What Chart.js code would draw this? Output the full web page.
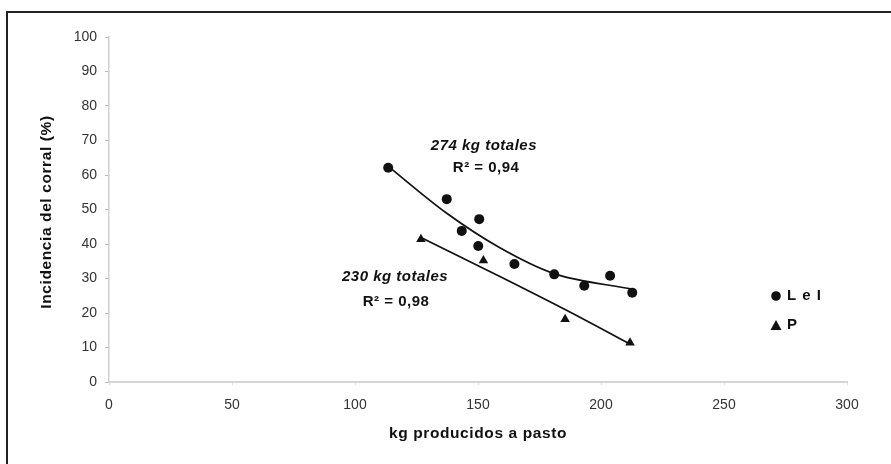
<!DOCTYPE html>
<html>
<head>
<meta charset="utf-8">
<script src="https://cdn.jsdelivr.net/npm/chart.js@4.4.1/dist/chart.umd.min.js"></script>
<style>
  html,body{margin:0;padding:0;background:#fff;}
  body{width:891px;height:464px;position:relative;overflow:hidden;}
  #frame{position:absolute;left:6px;top:11px;width:900px;height:470px;border:2px solid #222;box-sizing:border-box;}
  #c{position:absolute;left:0;top:0;}
</style>
</head>
<body>
<div id="frame"></div>
<canvas id="c" width="891" height="464"></canvas>
<script>
const FONT = '"Liberation Sans", Arial, sans-serif';

// L e I (circles)
const xLeI = [113.5, 137.3, 143.4, 150.5, 150.1, 164.8, 181.0, 193.2, 203.7, 212.7];
const yLeI = [62.1, 53.0, 43.8, 47.2, 39.4, 34.2, 31.2, 27.9, 30.8, 25.9];
// P (triangles)
const xP = [126.8, 152.2, 185.4, 211.8];
const yP = [41.4, 35.2, 18.2, 11.4];

// trend curves
const trendXLeI = [113.5, 137.3, 158.9, 180.6, 212.7];
const trendYLeI = [62.5, 48.9, 38.9, 31.5, 26.9];
const trendXP = [126.8, 158.9, 186.0, 211.8];
const trendYP = [41.9, 30.6, 20.8, 11.0];

const seriesNames = ['L e I', 'P'];
const xTicks = [0, 50, 100, 150, 200, 250, 300];
const yTicks = [0, 10, 20, 30, 40, 50, 60, 70, 80, 90, 100];

const pts = (xs, ys) => xs.map((x, i) => ({x, y: ys[i]}));

// text placed in data space
const notes = [
  {text: '274 kg totales', x: 152.4, y: 68.4, italic: true},
  {text: 'R² = 0,94', x: 153.3, y: 62.0},
  {text: '230 kg totales', x: 116.3, y: 30.4, italic: true},
  {text: 'R² = 0,98', x: 116.7, y: 23.2}
];

const textPlugin = {
  id: 'texts',
  afterDraw(chart){
    const {ctx, scales:{x, y}} = chart;
    ctx.save();
    ctx.fillStyle = '#111';
    ctx.textAlign = 'center';
    ctx.textBaseline = 'middle';
    ctx.letterSpacing = '0.5px';
    notes.forEach(n => {
      ctx.font = (n.italic ? 'italic ' : '') + 'bold 15px ' + FONT;
      ctx.fillText(n.text, x.getPixelForValue(n.x), y.getPixelForValue(n.y));
    });

    // axis titles
    ctx.font = 'bold 15.5px ' + FONT;
    ctx.letterSpacing = '0.6px';
    ctx.fillText('kg producidos a pasto', (x.left + x.right) / 2, 434);
    ctx.save();
    ctx.translate(47, 212);
    ctx.rotate(-Math.PI / 2);
    ctx.fillText('Incidencia del corral (%)', 0, 0);
    ctx.restore();

    // legend
    ctx.font = 'bold 15px ' + FONT;
    ctx.letterSpacing = '1px';
    ctx.textAlign = 'left';
    ctx.beginPath(); ctx.arc(776, 296, 4.8, 0, Math.PI * 2); ctx.fill();
    ctx.fillText(seriesNames[0], 787, 296);
    ctx.beginPath();
    ctx.moveTo(776, 320); ctx.lineTo(781.5, 330); ctx.lineTo(770.5, 330); ctx.closePath(); ctx.fill();
    ctx.fillText(seriesNames[1], 787, 325);
    ctx.restore();
  }
};

new Chart(document.getElementById('c'), {
  type: 'scatter',
  data: {
    datasets: [
      { label: seriesNames[0], data: pts(xLeI, yLeI), pointStyle: 'circle', pointRadius: 5,
        backgroundColor: '#111', borderColor: '#111', borderWidth: 0 },
      { label: seriesNames[1], data: pts(xP, yP), pointStyle: 'triangle', pointRadius: 5.5,
        backgroundColor: '#111', borderColor: '#111', borderWidth: 0 },
      { label: 'trend1', data: pts(trendXLeI, trendYLeI), showLine: true, pointRadius: 0,
        borderColor: '#111', borderWidth: 1.7, cubicInterpolationMode: 'monotone' },
      { label: 'trend2', data: pts(trendXP, trendYP), showLine: true, pointRadius: 0,
        borderColor: '#111', borderWidth: 1.7, cubicInterpolationMode: 'monotone' }
    ]
  },
  options: {
    responsive: false,
    animation: false,
    layout: { padding: { top: 37, right: 44, left: 0, bottom: 0 } },
    plugins: { legend: { display: false }, tooltip: { enabled: false } },
    scales: {
      x: {
        type: 'linear', min: 0, max: 300,
        afterFit: s => { s.height = 82; },
        afterBuildTicks: s => { s.ticks = xTicks.map(v => ({value: v})); },
        grid: { drawOnChartArea: false, drawTicks: true, tickLength: 3, color: '#ddd' },
        border: { color: '#d6d6d6', width: 2 },
        ticks: { color: '#333', font: { family: FONT, size: 14 }, padding: 12, maxRotation: 0 }
      },
      y: {
        type: 'linear', min: 0, max: 100,
        afterFit: s => { s.width = 109; },
        afterBuildTicks: s => { s.ticks = yTicks.map(v => ({value: v})); },
        grid: { drawOnChartArea: false, drawTicks: true, tickLength: 4, color: '#bbb' },
        border: { color: '#cfcfcf', width: 1.5 },
        ticks: { color: '#333', font: { family: FONT, size: 14 }, padding: 8 }
      }
    }
  },
  plugins: [textPlugin]
});
</script>
</body>
</html>
